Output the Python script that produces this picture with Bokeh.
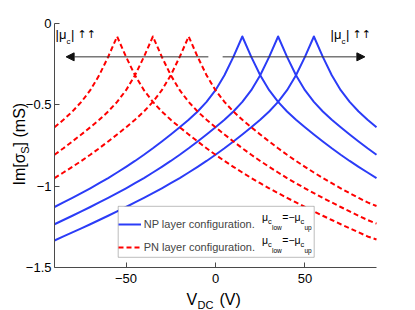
from bokeh.plotting import figure
from bokeh.models import (Label, Arrow, NormalHead, FixedTicker, BoxAnnotation,
                          CustomJSTickFormatter, Legend, LegendItem)
from bokeh.embed import file_html
from bokeh.resources import INLINE
import math

# ---------------- data ----------------
v_dc = [-90, -85, -80, -75, -70, -65, -60, -55, -50, -45, -40, -35, -30,
        -25, -20, -15, -10, -5, 0, 5, 10, 15, 20, 25, 30, 35, 40, 45, 50,
        55, 60, 65, 70, 75, 80, 85, 90]

# NP layer configuration (blue, solid), peaks at +15, +35, +55 V
np_a = [-1.128, -1.100, -1.072, -1.043, -1.013, -0.982, -0.950, -0.916, -0.881,
        -0.845, -0.807, -0.767, -0.725, -0.682, -0.638, -0.592, -0.541, -0.482,
        -0.410, -0.318, -0.205, -0.080, -0.205, -0.318, -0.410, -0.482, -0.541,
        -0.592, -0.638, -0.682, -0.725, -0.767, -0.807, -0.845, -0.881, -0.916,
        -0.950]
np_b = [-1.234, -1.208, -1.182, -1.155, -1.128, -1.100, -1.072, -1.043, -1.013,
        -0.982, -0.950, -0.916, -0.881, -0.845, -0.807, -0.767, -0.725, -0.682,
        -0.638, -0.592, -0.541, -0.482, -0.410, -0.318, -0.205, -0.080, -0.205,
        -0.318, -0.410, -0.482, -0.541, -0.592, -0.638, -0.682, -0.725, -0.767,
        -0.807]
np_c = [-1.334, -1.309, -1.284, -1.259, -1.234, -1.208, -1.182, -1.155, -1.128,
        -1.100, -1.072, -1.043, -1.013, -0.982, -0.950, -0.916, -0.881, -0.845,
        -0.807, -0.767, -0.725, -0.682, -0.638, -0.592, -0.541, -0.482, -0.410,
        -0.318, -0.205, -0.080, -0.205, -0.318, -0.410, -0.482, -0.541, -0.592,
        -0.638]

# PN layer configuration (red, dashed), peaks at -15, -35, -55 V
pn_a = [-0.950, -0.916, -0.881, -0.845, -0.807, -0.767, -0.725, -0.682, -0.638,
        -0.592, -0.541, -0.482, -0.410, -0.318, -0.205, -0.080, -0.205, -0.318,
        -0.410, -0.482, -0.541, -0.592, -0.638, -0.682, -0.725, -0.767, -0.807,
        -0.845, -0.881, -0.916, -0.950, -0.982, -1.013, -1.043, -1.072, -1.100,
        -1.122]
pn_b = [-0.807, -0.767, -0.725, -0.682, -0.638, -0.592, -0.541, -0.482, -0.410,
        -0.318, -0.205, -0.080, -0.205, -0.318, -0.410, -0.482, -0.541, -0.592,
        -0.638, -0.682, -0.725, -0.767, -0.807, -0.845, -0.881, -0.916, -0.950,
        -0.982, -1.013, -1.043, -1.072, -1.100, -1.128, -1.155, -1.182, -1.208,
        -1.230]
pn_c = [-0.638, -0.592, -0.541, -0.482, -0.410, -0.318, -0.205, -0.080, -0.205,
        -0.318, -0.410, -0.482, -0.541, -0.592, -0.638, -0.682, -0.725, -0.767,
        -0.807, -0.845, -0.881, -0.916, -0.950, -0.982, -1.013, -1.043, -1.072,
        -1.100, -1.128, -1.155, -1.182, -1.208, -1.234, -1.259, -1.284, -1.309,
        -1.328]

x_ticks = [-50, 0, 50]
y_ticks = [-1.5, -1.0, -0.5, 0.0]
x_limits = (-90, 90)
y_limits = (-1.5, 0.0)
legend_labels = ["NP layer configuration.", "PN layer configuration."]

BLUE = "#2b3cf7"
RED = "#ff0000"
FONT = "Liberation Sans"
AXC = "#4a4a4a"

# frame covers whole canvas; axes are pinned at the data limits
W, H = 415, 310
FL, FR, FT, FB = 54, 376, 23, 267          # pixel box of the axes
kx = (FR - FL) / (x_limits[1] - x_limits[0])
ky = (FB - FT) / (y_limits[1] - y_limits[0])
xr = (x_limits[0] - FL / kx, x_limits[1] + (W - FR) / kx)
yr = (y_limits[0] - (H - FB) / ky, y_limits[1] + FT / ky)

p = figure(width=W, height=H, x_range=xr, y_range=yr,
           output_backend="svg", toolbar_location=None,
           min_border=0, min_border_left=0, min_border_right=0,
           min_border_top=0, min_border_bottom=0)
p.outline_line_color = None
p.grid.visible = False
p.background_fill_color = "white"
p.border_fill_color = "white"

for ax in (p.xaxis[0], p.yaxis[0]):
    ax.axis_line_color = AXC
    ax.axis_line_width = 1
    ax.major_tick_line_color = AXC
    ax.major_tick_in = 5
    ax.major_tick_out = 0
    ax.minor_tick_line_color = None
    ax.major_label_text_font = FONT
    ax.major_label_text_font_size = "13px"
    ax.major_label_text_color = "black"
    ax.formatter = CustomJSTickFormatter(
        code="return tick < 0 ? '\\u2212' + (-tick) : String(tick);")

p.xaxis.ticker = FixedTicker(ticks=x_ticks)
p.yaxis.ticker = FixedTicker(ticks=y_ticks)
p.xaxis.fixed_location = y_limits[0]
p.yaxis.fixed_location = x_limits[0]
p.xaxis.bounds = x_limits
p.yaxis.bounds = y_limits
p.xaxis.major_label_standoff = 6
p.yaxis.major_label_standoff = 3

lw = 2
r_np = []
for ys in (np_a, np_b, np_c):
    r_np.append(p.line(v_dc, ys, line_color=BLUE, line_width=lw,
                       line_join="round"))
r_pn = []
for ys in (pn_a, pn_b, pn_c):
    r_pn.append(p.line(v_dc, ys, line_color=RED, line_width=lw,
                       line_dash="5 3", line_join="round"))

# arrows
arrow_y = -0.205
for xs, xe in ((-4, -83.5), (4, 83.5)):
    p.add_layout(Arrow(end=NormalHead(size=8, fill_color="#111111",
                                      line_color="#111111", line_width=1),
                       x_start=xs, y_start=arrow_y, x_end=xe, y_end=arrow_y,
                       line_color="#333333", line_width=1))


def sx2x(sx):
    return x_limits[0] + (sx - FL) / kx


def sy2y(sy):
    return y_limits[1] - (sy - FT) / ky


# legend box (drawn as a box annotation, the legend itself is transparent)
LG_L, LG_B, LG_W, LG_H = 117.7, 256.8, 196, 51
p.add_layout(BoxAnnotation(left=sx2x(LG_L), right=sx2x(LG_L + LG_W),
                           top=sy2y(LG_B - LG_H), bottom=sy2y(LG_B),
                           fill_color="white", fill_alpha=1.0,
                           line_color="#262626", line_width=1))

legend = Legend(items=[LegendItem(label=legend_labels[0], renderers=[r_np[0]]),
                       LegendItem(label=legend_labels[1], renderers=[r_pn[0]])],
                location=(LG_L, H - LG_B), padding=4, spacing=3, margin=0,
                glyph_width=23, glyph_height=20, label_height=20,
                label_width=162, label_standoff=3,
                label_text_font=FONT, label_text_font_size="11px",
                label_text_baseline="alphabetic",
                border_line_color=None,
                background_fill_alpha=0.0)
p.add_layout(legend)

SHIFT = 0.32   # empirical baseline correction (fraction of font size)


def lab(sx, sy, text, size, rotated=False, font=FONT):
    if rotated:
        sx -= SHIFT * size
    else:
        sy -= SHIFT * size
    p.add_layout(Label(x=sx2x(sx), y=sy2y(sy), text=text, text_font=font,
                       text_font_size=f"{size}px", text_color="black",
                       text_align="left", text_baseline="alphabetic",
                       angle=math.pi / 2 if rotated else 0.0))


# |mu_c| annotations
for s0 in (55, 330):
    lab(s0, 38, "|\u03bc", 13)
    lab(s0 + 11, 44, "c", 8)
    lab(s0 + 15.5, 38, "|", 13)
    lab(s0 + 22, 38, "\u2191\u2191", 11, font="DejaVu Sans")

# subscripted parts of the legend labels
for base in (219.8, 242.8):
    lab(261.5, base, "\u03bc", 10.5)
    lab(267.5, base + 3.5, "c", 7.5)
    lab(271.5, base + 9.0, "low", 6.5)
    lab(281.8, base, "=\u2212\u03bc", 10.5)
    lab(300.0, base + 3.5, "c", 7.5)
    lab(304.0, base + 9.0, "up", 6.5)

# axis labels (with subscripts)
lab(186, 304, "V", 16)
lab(197, 308, "DC", 11)
lab(219, 304, "(V)", 16)

lab(24, 185, "Im[\u03c3", 16, rotated=True)
lab(28, 153.2, "S", 11, rotated=True)
lab(24, 145.9, "] (mS)", 16, rotated=True)

open("out.html", "w").write(file_html(p, INLINE))
